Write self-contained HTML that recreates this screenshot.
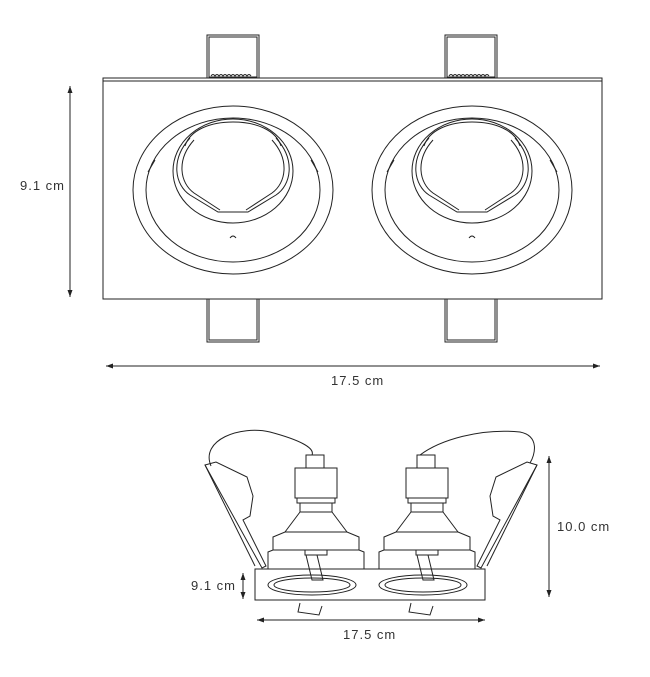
<!DOCTYPE html>
<html><head><meta charset="utf-8"><style>
html,body{margin:0;padding:0;background:#fff;}
svg{display:block;}
text{font-family:"Liberation Sans",sans-serif;fill:#333;letter-spacing:1px;}
</style></head><body>
<svg width="650" height="677" viewBox="0 0 650 677" xmlns="http://www.w3.org/2000/svg">
<defs>
<marker id="ah" markerWidth="8" markerHeight="8" refX="7" refY="4" orient="auto-start-reverse" markerUnits="userSpaceOnUse">
<path d="M0,1.5 L7,4 L0,6.5 Z" fill="#222"/></marker>
</defs>
<g fill="none" stroke="#222" stroke-width="1">
<rect x="207" y="35" width="52" height="44"/><rect x="209" y="37" width="48" height="40"/>
<rect x="445" y="35" width="52" height="44"/><rect x="447" y="37" width="48" height="40"/>
<rect x="207" y="299" width="52" height="43"/><rect x="209" y="299" width="48" height="41"/>
<rect x="445" y="299" width="52" height="43"/><rect x="447" y="299" width="48" height="41"/>
<path d="M211,76 q2,-3 4,0 q2,-3 4,0 q2,-3 4,0 q2,-3 4,0 q2,-3 4,0 q2,-3 4,0 q2,-3 4,0 q2,-3 4,0 q2,-3 4,0 q2,-3 4,0"/>
<path d="M449,76 q2,-3 4,0 q2,-3 4,0 q2,-3 4,0 q2,-3 4,0 q2,-3 4,0 q2,-3 4,0 q2,-3 4,0 q2,-3 4,0 q2,-3 4,0 q2,-3 4,0"/>
<rect x="103" y="78" width="499" height="221" fill="#fff"/>
<line x1="103" y1="81" x2="602" y2="81"/>
<g id="lamp">
<ellipse cx="233" cy="190" rx="100" ry="84"/>
<ellipse cx="233" cy="190" rx="87" ry="72"/>
<path d="M148,172 L155,160 M318,172 L311,160"/>
<ellipse cx="233" cy="171" rx="60" ry="52"/>
<path d="M190,138 C170,160 175,185 190,195 L218,212 L248,212 L276,195 C291,185 296,160 276,138"/>
<path d="M194,140 C176,160 180,183 194,193 L220,210 M246,210 L272,193 C286,183 290,160 272,140"/>
<path d="M185,146 C190,130 210,122 233,122 C256,122 276,130 281,146"/>
<path d="M230,238 q3,-4 6,0"/>
</g>
<use href="#lamp" x="239"/>
</g>
<g stroke="#222" stroke-width="1">
<line x1="70" y1="86" x2="70" y2="297" marker-start="url(#ah)" marker-end="url(#ah)"/>
<line x1="106" y1="366" x2="600" y2="366" marker-start="url(#ah)" marker-end="url(#ah)"/>
</g>
<text x="20" y="190" font-size="13">9.1 cm</text>
<text x="331" y="385" font-size="13">17.5 cm</text>

<g fill="none" stroke="#222" stroke-width="1">
<path d="M211,466 C200,440 240,425 270,432 C300,440 315,448 312,455"/>
<path d="M420,455 C440,440 480,428 520,432 C540,436 535,455 530,463"/>
<path d="M205,465 L216,462 L247,477 L253,496 L250,516 L243,520 L266,566 L262,568 Z"/>
<path d="M205,465 L255,566"/>
<path d="M537,465 L527,462 L496,477 L490,496 L493,516 L500,520 L477,566 L481,568 Z"/>
<path d="M537,465 L487,566"/>
<g id="sock">
<rect x="306" y="455" width="18" height="13"/>
<rect x="295" y="468" width="42" height="30"/>
<rect x="297" y="498" width="38" height="5"/>
<path d="M300,503 L300,512 L285,532 M332,503 L332,512 L347,532"/>
<path d="M300,512 L332,512"/>
<path d="M273,550 L273,537 L285,532 L347,532 L359,537 L359,550"/>
<path d="M268,569 L268,552 L273,550 L359,550 L364,552 L364,569"/>
<rect x="305" y="550" width="22" height="5"/>
<path d="M306,555 L312,580 L323,580 L317,555"/>
<path d="M300,603 L298,612 L319,615 L322,606"/>
</g>
<use href="#sock" x="111"/>
<rect x="255" y="569" width="230" height="31" fill="none"/>
<ellipse cx="312" cy="585" rx="44" ry="10"/>
<ellipse cx="312" cy="585" rx="38" ry="7"/>
<ellipse cx="423" cy="585" rx="44" ry="10"/>
<ellipse cx="423" cy="585" rx="38" ry="7"/>
</g>
<g stroke="#222" stroke-width="1">
<line x1="549" y1="456" x2="549" y2="597" marker-start="url(#ah)" marker-end="url(#ah)"/>
<line x1="243" y1="573" x2="243" y2="599" marker-start="url(#ah)" marker-end="url(#ah)"/>
<line x1="257" y1="620" x2="485" y2="620" marker-start="url(#ah)" marker-end="url(#ah)"/>
</g>
<text x="557" y="531" font-size="13">10.0 cm</text>
<text x="191" y="590" font-size="13">9.1 cm</text>
<text x="343" y="639" font-size="13">17.5 cm</text>
</svg>
</body></html>
